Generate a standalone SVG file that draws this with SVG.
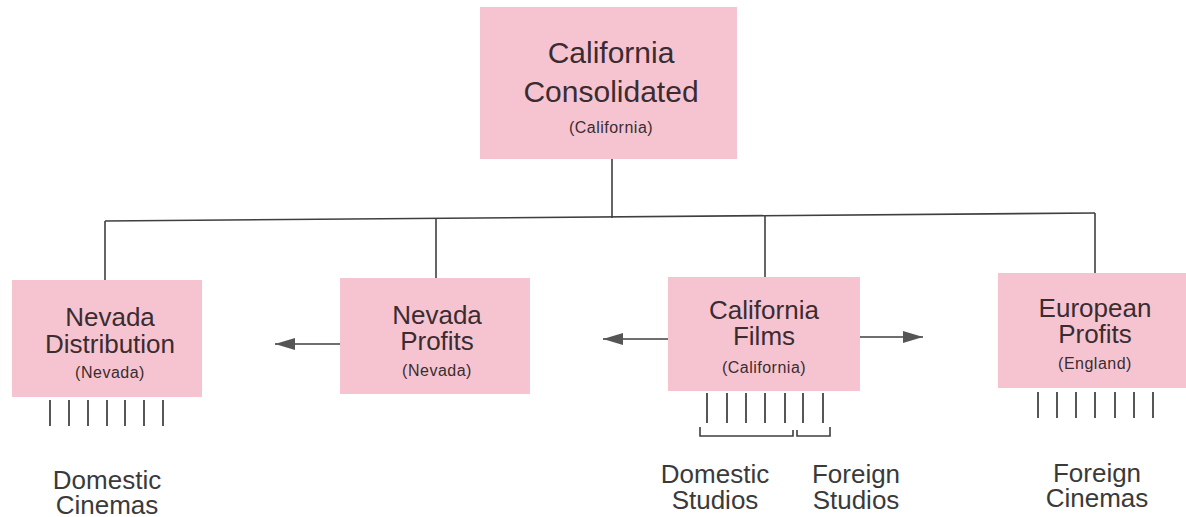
<svg xmlns="http://www.w3.org/2000/svg" width="1186" height="517" viewBox="0 0 1186 517">
<style>
.box{fill:#f6c4d0;}
.t{font-family:"Liberation Sans",Arial,sans-serif;fill:#3a2c31;text-anchor:middle;}
.big{font-size:30px;}
.mid{font-size:26px;}
.sm{font-size:16px;letter-spacing:0.5px;}
.lab{font-family:"Liberation Sans",Arial,sans-serif;fill:#3a3a3a;text-anchor:middle;font-size:26px;}
.ln{stroke:#3f3f3f;stroke-width:1.6;fill:none;}
.tick{stroke:#444;stroke-width:1.8;}
</style>
<defs>
<marker id="ah2" markerWidth="20" markerHeight="14" refX="20" refY="7" orient="auto" markerUnits="userSpaceOnUse" viewBox="0 0 20 14">
<path d="M0,1 L20,7 L0,13 Z" fill="#555"/>
</marker>
</defs>
<rect width="1186" height="517" fill="#ffffff"/>

<g id="connectors">
<line class="ln" x1="612" y1="159" x2="612" y2="218"/>
<line class="ln" x1="105" y1="221" x2="1095" y2="213"/>
<line class="ln" x1="105" y1="221" x2="105" y2="281"/>
<line class="ln" x1="436" y1="218.5" x2="436" y2="279"/>
<line class="ln" x1="765" y1="216" x2="765" y2="278"/>
<line class="ln" x1="1095" y1="213" x2="1095" y2="274"/>
<line class="ln" x1="340" y1="344" x2="275" y2="344" marker-end="url(#ah2)"/>
<line class="ln" x1="668" y1="339" x2="603" y2="339" marker-end="url(#ah2)"/>
<line class="ln" x1="860" y1="337" x2="923" y2="337" marker-end="url(#ah2)"/>
</g>

<g id="california-consolidated">
<rect class="box" x="480" y="7" width="257" height="152"/>
<text class="t big" x="611" y="63">California<tspan x="611" dy="39">Consolidated</tspan></text>
<text class="t sm" x="611" y="133">(California)</text>
</g>

<g id="nevada-distribution">
<rect class="box" x="12" y="280" width="190" height="117"/>
<text class="t mid" x="110" y="326">Nevada<tspan x="110" dy="27">Distribution</tspan></text>
<text class="t sm" x="110" y="378">(Nevada)</text>
<g class="tick">
<line x1="50" y1="400" x2="50" y2="426"/>
<line x1="69" y1="400" x2="69" y2="426"/>
<line x1="88" y1="400" x2="88" y2="426"/>
<line x1="107" y1="400" x2="107" y2="426"/>
<line x1="125" y1="400" x2="125" y2="426"/>
<line x1="144" y1="400" x2="144" y2="426"/>
<line x1="163" y1="400" x2="163" y2="426"/>
</g>
<text class="lab" x="107" y="489">Domestic<tspan x="107" dy="25">Cinemas</tspan></text>
</g>

<g id="nevada-profits">
<rect class="box" x="340" y="278" width="190" height="116"/>
<text class="t mid" x="437" y="324">Nevada<tspan x="437" dy="26">Profits</tspan></text>
<text class="t sm" x="437" y="376">(Nevada)</text>
</g>

<g id="california-films">
<rect class="box" x="668" y="277" width="192" height="114"/>
<text class="t mid" x="764" y="319">California<tspan x="764" dy="26">Films</tspan></text>
<text class="t sm" x="764" y="373">(California)</text>
<g class="tick">
<line x1="707" y1="393" x2="707" y2="423"/>
<line x1="727" y1="393" x2="727" y2="423"/>
<line x1="746" y1="393" x2="746" y2="423"/>
<line x1="765" y1="393" x2="765" y2="423"/>
<line x1="785" y1="393" x2="785" y2="423"/>
<line x1="803" y1="393" x2="803" y2="423"/>
<line x1="823" y1="393" x2="823" y2="423"/>
</g>
<path class="ln" d="M700,427 V436 H793 V430"/>
<path class="ln" d="M797,430 V436 H830 V427"/>
<text class="lab" x="715" y="483">Domestic<tspan x="715" dy="26">Studios</tspan></text>
<text class="lab" x="856" y="483">Foreign<tspan x="856" dy="26">Studios</tspan></text>
</g>

<g id="european-profits">
<rect class="box" x="998" y="273" width="188" height="115"/>
<text class="t mid" x="1095" y="317">European<tspan x="1095" dy="26">Profits</tspan></text>
<text class="t sm" x="1095" y="369">(England)</text>
<g class="tick">
<line x1="1038" y1="392" x2="1038" y2="418"/>
<line x1="1057" y1="392" x2="1057" y2="418"/>
<line x1="1076" y1="392" x2="1076" y2="418"/>
<line x1="1095" y1="392" x2="1095" y2="418"/>
<line x1="1115" y1="392" x2="1115" y2="418"/>
<line x1="1134" y1="392" x2="1134" y2="418"/>
<line x1="1153" y1="392" x2="1153" y2="418"/>
</g>
<text class="lab" x="1097" y="482">Foreign<tspan x="1097" dy="25">Cinemas</tspan></text>
</g>
</svg>
